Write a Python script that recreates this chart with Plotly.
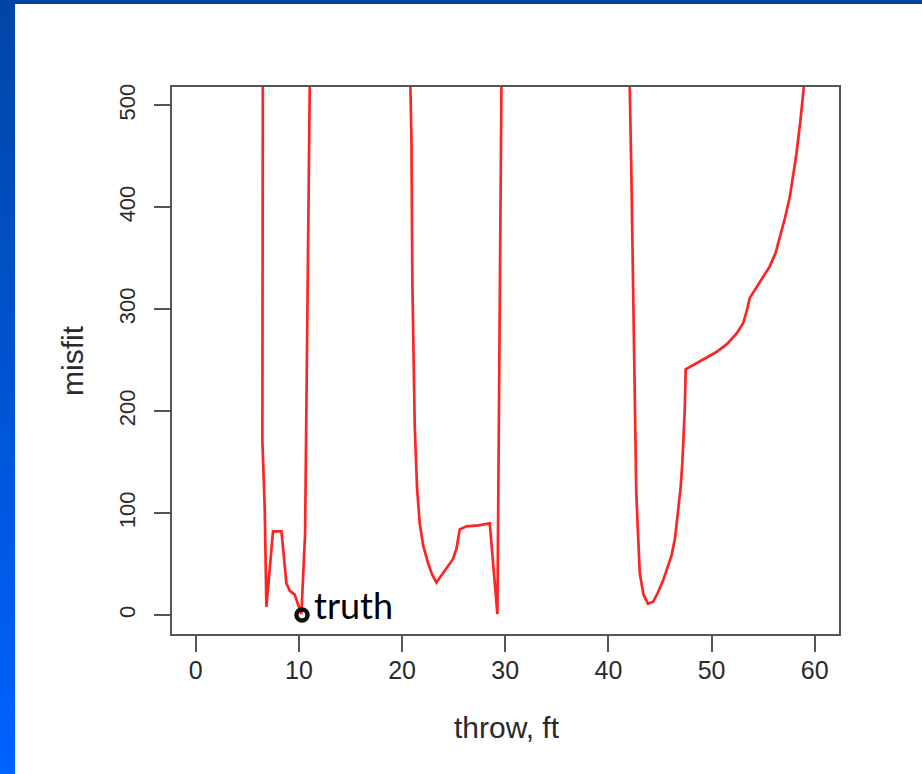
import plotly.graph_objects as go

# misfit as a function of fault throw
throw_ft = [
    6.55, 6.46, 6.69, 6.85, 7.49, 8.31, 8.79, 9.11, 9.59, 10.24, 10.60, 10.85, 11.05, 11.30,
    20.70, 20.81, 20.91, 21.00, 21.23, 21.45, 21.71, 22.05, 22.52, 22.90, 23.33, 24.10, 24.94,
    25.27, 25.59, 26.24, 27.40, 28.50,
    29.24, 29.63, 29.80,
    41.95, 42.07, 42.23, 42.39, 42.55, 42.70, 42.87, 43.04, 43.40, 43.84, 44.33, 44.80, 45.30,
    45.70, 46.11, 46.45, 46.75, 47.00, 47.17, 47.30, 47.40, 47.49, 48.85, 50.47, 51.50, 52.41,
    53.05, 53.40, 53.70, 54.35, 55.00, 55.64, 56.20, 56.61, 57.10, 57.58, 57.90, 58.22, 58.60,
    58.93, 59.30,
]
misfit = [
    900, 171, 104, 8, 82, 82, 31, 24, 20, 1, 80, 300, 517, 900,
    900, 517, 465, 325, 185, 125, 90, 68, 51, 40, 32, 43, 55,
    65, 84, 87, 88, 90,
    1, 517, 900,
    900, 517, 430, 325, 185, 120, 80, 41, 20, 11, 13, 22, 34,
    45, 58, 75, 100, 125, 150, 180, 202, 241, 249, 258, 266, 276,
    286, 298, 311, 321, 331, 342, 355, 370, 389, 410, 430, 452, 484,
    517, 650,
]

truth_throw = [10.3]
truth_misfit = [0]
truth_label = "truth"

x_ticks = [0, 10, 20, 30, 40, 50, 60]
y_ticks = [0, 100, 200, 300, 400, 500]

W, H = 922, 774
ML, MR, MT, MB = 172, 83, 87, 140
PW, PH = W - ML - MR, H - MT - MB


def px_x(p):
    return (p - ML) / PW


def px_y(p):
    return (H - MB - p) / PH


fig = go.Figure()

fig.add_trace(go.Scatter(
    x=throw_ft, y=misfit, mode="lines",
    line=dict(color="#ff2424", width=2.7),
    showlegend=False, hoverinfo="skip",
))

fig.add_trace(go.Scatter(
    x=truth_throw, y=truth_misfit, mode="markers",
    marker=dict(symbol="circle-open", size=11, color="#111111", line=dict(width=4.5)),
    showlegend=False, cliponaxis=False,
))

fig.add_annotation(
    x=truth_throw[0], y=truth_misfit[0], xref="x", yref="y",
    text=truth_label, showarrow=False, xanchor="left", yanchor="middle",
    xshift=10, yshift=10,
    font=dict(family="Lato", size=36, color="#000000"),
)

# slide frame: dark top strip and a vertical blue gradient band on the left
shapes = []
n_strips = 80
top_rgb = (0, 70, 166)
bot_rgb = (0, 98, 255)
for i in range(n_strips):
    t = i / (n_strips - 1)
    r = round(top_rgb[0] + (bot_rgb[0] - top_rgb[0]) * t)
    g = round(top_rgb[1] + (bot_rgb[1] - top_rgb[1]) * t)
    b = round(top_rgb[2] + (bot_rgb[2] - top_rgb[2]) * t)
    y_top = i * H / n_strips
    # each strip runs to the bottom so the later ones cover the seams
    shapes.append(dict(
        type="rect", xref="paper", yref="paper",
        x0=px_x(0), x1=px_x(15), y0=px_y(H), y1=px_y(y_top),
        fillcolor=f"rgb({r},{g},{b})", line=dict(width=0), layer="below",
    ))
shapes.append(dict(
    type="rect", xref="paper", yref="paper",
    x0=px_x(0), x1=px_x(W), y0=px_y(4), y1=px_y(0),
    fillcolor="#0046a8", line=dict(width=0), layer="below",
))

xtick_font = dict(family="Liberation Sans, Arial, sans-serif", size=25, color="#2a2a2a")
ytick_font = dict(family="Liberation Sans, Arial, sans-serif", size=22, color="#2a2a2a")
title_font = dict(family="Liberation Sans, Arial, sans-serif", size=30, color="#2a2a2a")

fig.add_annotation(
    x=px_x(507), y=px_y(727), xref="paper", yref="paper",
    text="throw, ft", showarrow=False, xanchor="center", yanchor="middle",
    font=title_font,
)
fig.add_annotation(
    x=px_x(72), y=px_y(361), xref="paper", yref="paper",
    text="misfit", showarrow=False, xanchor="center", yanchor="middle",
    textangle=-90, font=title_font,
)

fig.update_layout(
    width=W, height=H,
    margin=dict(l=ML, r=MR, t=MT, b=MB, autoexpand=False),
    paper_bgcolor="white", plot_bgcolor="white",
    shapes=shapes,
    xaxis=dict(
        range=[-2.3, 62.35], tickvals=x_ticks, ticktext=[str(v) for v in x_ticks],
        showgrid=False, zeroline=False,
        showline=True, mirror=True, linecolor="#555555", linewidth=2,
        ticks="outside", ticklen=16, tickwidth=2, tickcolor="#555555",
        tickfont=xtick_font, ticklabelstandoff=-3,
    ),
    yaxis=dict(
        range=[-18.6, 518], tickvals=y_ticks, ticktext=[str(v) for v in y_ticks],
        showgrid=False, zeroline=False,
        showline=True, mirror=True, linecolor="#555555", linewidth=2,
        ticks="outside", ticklen=16, tickwidth=2, tickcolor="#555555",
        tickfont=ytick_font, tickangle=-90, ticklabelstandoff=10,
    ),
)

fig.write_html("out.html")
